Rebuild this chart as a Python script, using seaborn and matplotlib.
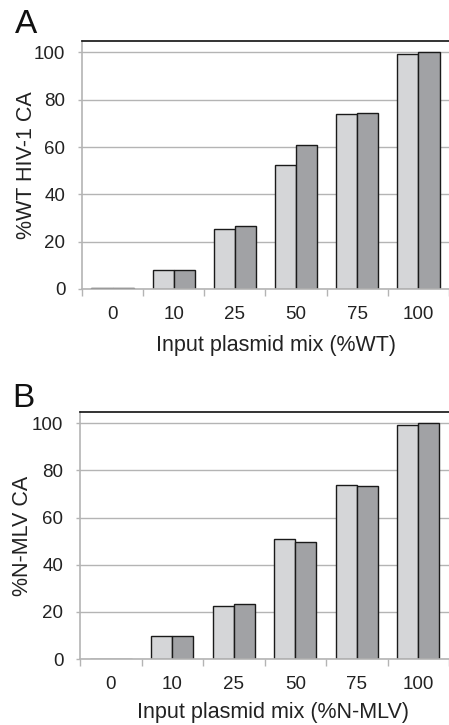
import matplotlib
matplotlib.use("Agg")
import pandas as pd
import seaborn as sns
import matplotlib.pyplot as plt

# data
mix_labels = ['0', '10', '25', '50', '75', '100']
series_names = ['rep1', 'rep2']

a_light = [0.5, 8.0, 25.4, 52.3, 73.8, 99.3]
a_dark = [0.5, 8.0, 26.7, 61.0, 74.4, 100.0]

b_light = [0.0, 9.9, 22.7, 50.9, 73.9, 99.4]
b_dark = [0.0, 9.9, 23.4, 49.6, 73.2, 100.1]

COLORS = ['#d5d6d8', '#a1a2a5']
GRID = '#b4b4b4'

sns.set_style('white')
plt.rcParams['font.family'] = ['Liberation Sans', 'DejaVu Sans']
plt.rcParams['font.size'] = 13


def long_df(light, dark):
    return pd.DataFrame({
        'mix': mix_labels * 2,
        'value': light + dark,
        'series': [series_names[0]] * len(light) + [series_names[1]] * len(dark),
    })


def panel(ax, light, dark, ylabel, xlabel, xmax, ylab_x, xlab_x, xlab_y):
    df = long_df(light, dark)
    sns.barplot(data=df, x='mix', y='value', hue='series', order=mix_labels,
                hue_order=series_names, palette=COLORS, width=0.69,
                edgecolor='#1a1a1a', linewidth=1.0, legend=False, ax=ax,
                saturation=1)
    ax.set_ylim(0, 104.8)
    ax.set_xlim(-0.5, xmax)
    ax.set_yticks([0, 20, 40, 60, 80, 100])
    ax.yaxis.grid(True, color=GRID, linewidth=1.0)
    ax.set_axisbelow(True)
    # group boundary ticks
    ax.set_xticks([i + 0.5 for i in range(-1, 6)], minor=True)
    ax.set_xticks(range(6))
    ax.set_xticklabels(mix_labels)
    ax.tick_params(axis='x', which='major', bottom=False, length=0, pad=12,
                   labelsize=13.5, labelcolor='#222222')
    ax.tick_params(axis='x', which='minor', bottom=True, length=5, width=1,
                   color=GRID, direction='out')
    ax.tick_params(axis='y', left=True, length=3, width=1, color=GRID, pad=9,
                   labelsize=13.5, labelcolor='#222222')
    for side in ['left', 'bottom']:
        ax.spines[side].set_color(GRID)
        ax.spines[side].set_linewidth(1.2)
    ax.spines['top'].set_color('#111111')
    ax.spines['top'].set_linewidth(1.2)
    ax.spines['right'].set_visible(False)
    ax.set_ylabel(ylabel, fontsize=15.5, color='#222222')
    ax.set_xlabel(xlabel, fontsize=15.5, color='#222222')
    ax.yaxis.set_label_coords(ylab_x, 0.5)
    ax.xaxis.set_label_coords(xlab_x, xlab_y)


fig = plt.figure(figsize=(4.49, 7.25), dpi=100)
ax1 = fig.add_axes([0.1826, 0.6014, 1 - 0.1826, 0.9434 - 0.6014])
ax2 = fig.add_axes([0.1782, 0.0910, 1 - 0.1782, 0.4317 - 0.0910])

panel(ax1, a_light, a_dark, '%WT HIV-1 CA', 'Input plasmid mix (%WT)',
      5.37, -0.123, 0.528, -0.185)
panel(ax2, b_light, b_dark, '%N-MLV CA', 'Input plasmid mix (%N-MLV)',
      5.40, -0.127, 0.523, -0.172)

fig.text(0.059, 0.966, 'A', fontsize=24, ha='center', va='center', color='#111111')
fig.text(0.051, 0.450, 'B', fontsize=24, ha='center', va='center', color='#111111')

fig.savefig('out.png', dpi=100)
